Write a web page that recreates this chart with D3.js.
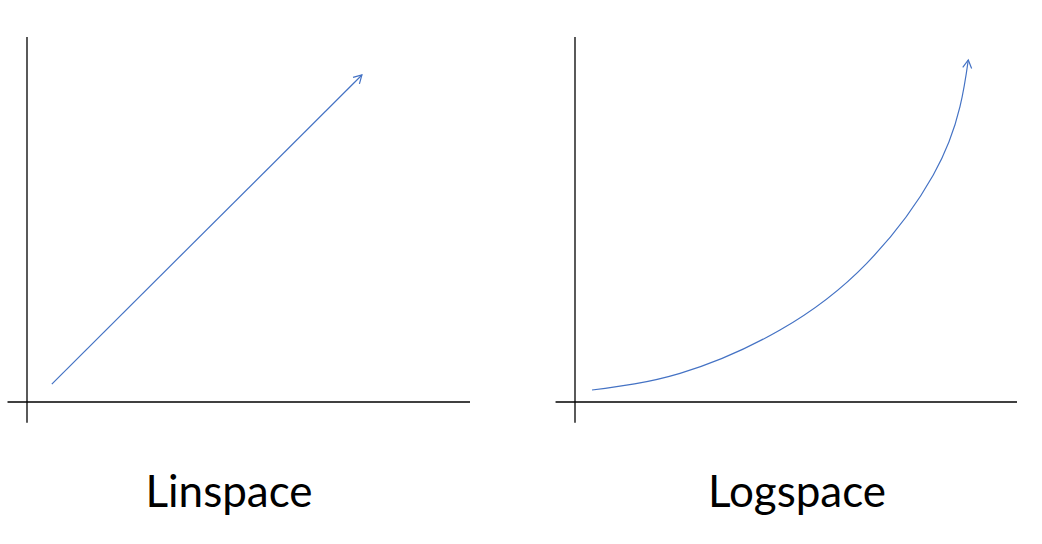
<!DOCTYPE html>
<html>
<head>
<meta charset="utf-8">
<script src="https://cdn.jsdelivr.net/npm/d3@7"></script>
<style>
  html, body { margin: 0; padding: 0; background: #fff; }
  svg { display: block; }
</style>
</head>
<body>
<script>
// panel titles
const titles = ['Linspace', 'Logspace'];

// linear arrow, start and end (data units 0..100)
const linX = [5.6, 75.6];
const linY = [4.9, 89.6];

// growth curve
const logX = [3.85, 23.76, 46.38, 66.0, 81.06, 87.1, 88.98];
const logY = [3.29, 7.86, 19.73, 38.0, 62.19, 80.9, 93.7];

const width = 1042, height = 544;
const blue = '#4472C4';

const svg = d3.select('body')
  .append('svg')
  .attr('width', width)
  .attr('height', height);

const defs = svg.append('defs');
defs.append('marker')
  .attr('id', 'arrow')
  .attr('markerUnits', 'userSpaceOnUse')
  .attr('viewBox', '0 0 12 12')
  .attr('refX', 10)
  .attr('refY', 6)
  .attr('markerWidth', 12)
  .attr('markerHeight', 12)
  .attr('orient', 'auto')
  .append('path')
  .attr('d', 'M2,1.5 L10,6 L2,10.5')
  .attr('fill', 'none')
  .attr('stroke', blue)
  .attr('stroke-width', 1.2);

const panels = [
  { left: 27, right: 470, title: titles[0], cx: 229 },
  { left: 575, right: 1017, title: titles[1], cx: 797 }
];

const scales = panels.map(p => ({
  x: d3.scaleLinear().domain([0, 100]).range([p.left, p.right]),
  y: d3.scaleLinear().domain([0, 100]).range([402, 37])
}));

panels.forEach((p, i) => {
  const { x, y } = scales[i];
  const g = svg.append('g');

  // axes
  g.append('line')
    .attr('x1', x(-4.4)).attr('x2', x(100))
    .attr('y1', y(0)).attr('y2', y(0))
    .attr('stroke', '#000').attr('stroke-width', 1.3);
  g.append('line')
    .attr('x1', x(0)).attr('x2', x(0))
    .attr('y1', y(100)).attr('y2', y(-5.7))
    .attr('stroke', '#000').attr('stroke-width', 1.3);

  g.append('text')
    .attr('x', p.cx)
    .attr('y', 507)
    .attr('text-anchor', 'middle')
    .style('font-family', 'Lato, "Open Sans", sans-serif')
    .style('font-size', '44px')
    .style('fill', '#000')
    .text(p.title);
});

// linspace arrow
const line = d3.line()
  .x(d => scales[0].x(d[0]))
  .y(d => scales[0].y(d[1]));
svg.append('path')
  .datum(d3.zip(linX, linY))
  .attr('d', line)
  .attr('fill', 'none')
  .attr('stroke', blue)
  .attr('stroke-width', 1.2)
  .attr('marker-end', 'url(#arrow)');

// logspace curve
const curve = d3.line()
  .x(d => scales[1].x(d[0]))
  .y(d => scales[1].y(d[1]))
  .curve(d3.curveNatural);
svg.append('path')
  .datum(d3.zip(logX, logY))
  .attr('d', curve)
  .attr('fill', 'none')
  .attr('stroke', blue)
  .attr('stroke-width', 1.2)
  .attr('marker-end', 'url(#arrow)');
</script>
</body>
</html>
